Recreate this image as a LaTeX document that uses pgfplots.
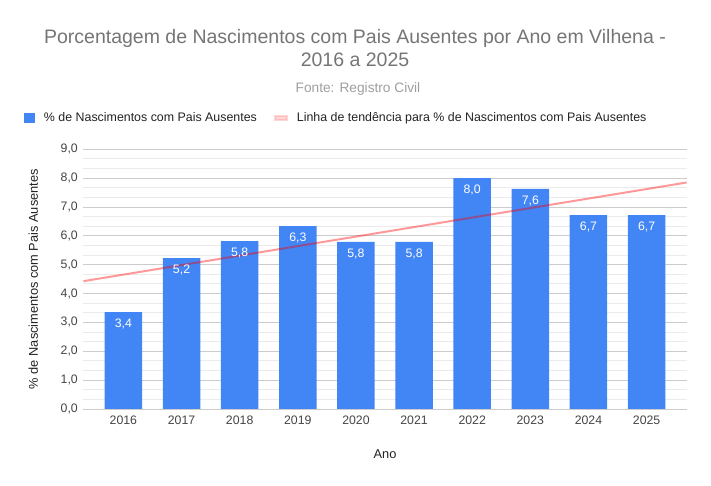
\documentclass[border=0pt]{standalone}
\usepackage{pgfplots}
\pgfplotsset{compat=1.18}
\usepackage{fontspec}
\setmainfont{Liberation Sans}
\definecolor{barblue}{HTML}{4285F4}
\definecolor{trendpink}{HTML}{FF9999}
\definecolor{titlegray}{HTML}{757575}
\definecolor{subgray}{HTML}{9E9E9E}
\definecolor{ticktext}{HTML}{444444}
\definecolor{labeltext}{HTML}{222222}
\definecolor{majgrid}{HTML}{CCCCCC}
\definecolor{mingrid}{HTML}{EBEBEB}
\definecolor{baseline}{HTML}{333333}
\begin{document}
\begin{tikzpicture}
\path[use as bounding box] (0,0) rectangle (711bp,486bp);
\begin{axis}[
  at={(83.3bp,77bp)}, anchor=south west,
  scale only axis, width=603.4bp, height=259.7bp,
  xmin=-0.69, xmax=9.69, ymin=0, ymax=9,
  xtick={0,1,2,3,4,5,6,7,8,9},
  xticklabels={2016,2017,2018,2019,2020,2021,2022,2023,2024,2025},
  ytick={0,1,2,3,4,5,6,7,8,9},
  minor y tick num=2,
  ymajorgrids, yminorgrids,
  major grid style={draw=majgrid, line width=1bp},
  minor grid style={draw=mingrid, line width=1bp},
  major tick length=0pt, minor tick length=0pt,
  axis line style={draw=none},
  /pgf/number format/assume math mode=true,
  yticklabel style={/pgf/number format/fixed, /pgf/number format/fixed zerofill, /pgf/number format/precision=1, /pgf/number format/use comma, xshift=-2bp},
  tick label style={font=\fontsize{12.3bp}{14bp}\selectfont, text=ticktext},
  xticklabel style={yshift=-3bp},
  xlabel={Ano}, ylabel={\% de Nascimentos com Pais Ausentes},
  label style={font=\fontsize{12.8bp}{15bp}\selectfont, text=labeltext},
  xlabel style={at={(axis description cs:0.5,0)}, anchor=center, yshift=-45bp},
  ylabel style={at={(axis description cs:0,0.5)}, anchor=center, xshift=0bp, yshift=50bp},
  extra y ticks={0}, extra y tick labels={},
  extra y tick style={grid style={draw=baseline, line width=1.2bp}},
  legend columns=2,
  legend cell align=left,
  legend style={draw=none, fill=none, inner sep=0pt, outer sep=0pt,
    at={(rel axis cs:-0.0983,1.1205)}, anchor=west,
    font=\fontsize{12.4bp}{14bp}\selectfont, text=labeltext,
    nodes={inner sep=0pt, outer sep=0pt},
    /tikz/every odd column/.append style={column sep=9bp},
    /tikz/every even column/.append style={column sep=17bp}},
]
\addplot[ybar, bar width=37.5bp, fill=barblue, draw=none,
  nodes near coords,
  nodes near coords style={/pgf/number format/fixed, /pgf/number format/fixed zerofill, /pgf/number format/precision=1, /pgf/number format/use comma},
  every node near coord/.append style={anchor=base, yshift=-15.5bp, text=white, font=\fontsize{12.3bp}{14bp}\selectfont},
  legend image code/.code={\fill[barblue] (0bp,-5bp) rectangle (11bp,5bp);}]
  coordinates {(0,3.36) (1,5.23) (2,5.82) (3,6.34) (4,5.79) (5,5.79) (6,8.0) (7,7.63) (8,6.72) (9,6.72)};
\addlegendentry{\% de Nascimentos com Pais Ausentes}
\addplot[red, opacity=0.4, line width=2bp, no marks,
  legend image code/.code={\fill[trendpink] (0bp,-2bp) rectangle (12bp,2bp);}]
  coordinates {(-0.69,4.43) (9.69,7.85)};
\addlegendentry{Linha de tendência para \% de Nascimentos com Pais Ausentes}
\end{axis}
\node[anchor=base, text=titlegray, font=\fontsize{19.5bp}{23bp}\selectfont] at (355bp,442.5bp) {Porcentagem de Nascimentos com Pais Ausentes por Ano em Vilhena -};
\node[anchor=base, text=titlegray, font=\fontsize{19.5bp}{23bp}\selectfont] at (355bp,419bp) {2016 a 2025};
\node[anchor=base, text=subgray, font=\fontsize{13.7bp}{16bp}\selectfont] at (358bp,393bp) {Fonte: Registro Civil};
\end{tikzpicture}
\end{document}
